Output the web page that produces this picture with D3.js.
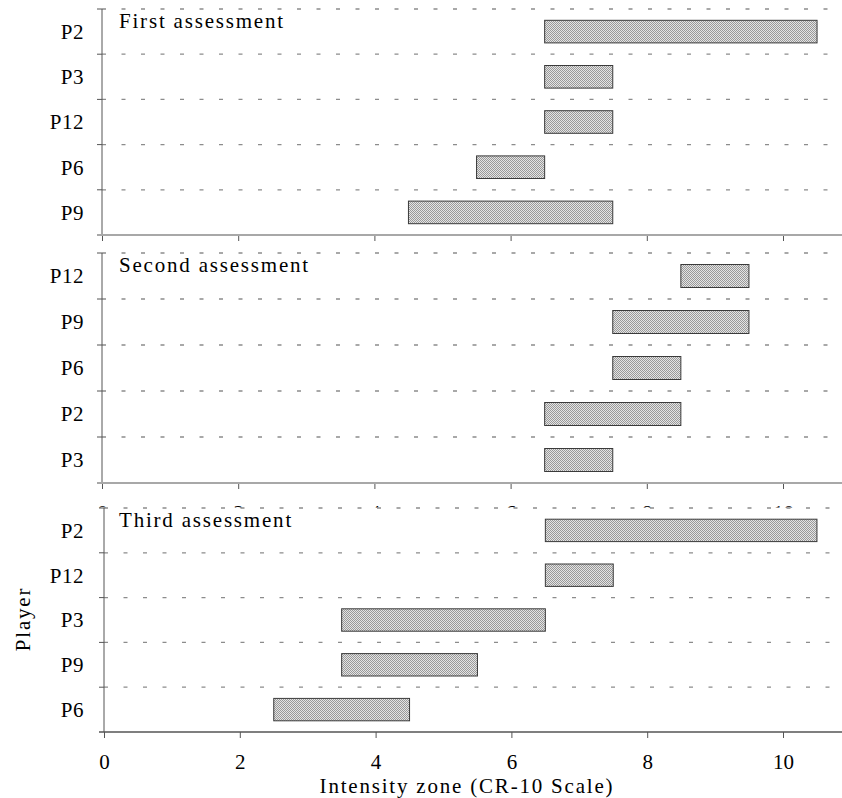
<!DOCTYPE html>
<html>
<head>
<meta charset="utf-8">
<script src="https://cdn.jsdelivr.net/npm/d3@7"></script>
<style>
  body { margin: 0; background: #fff; }
  text { font-family: "Liberation Serif", serif; fill: #000; }
</style>
</head>
<body>
<div id="chart"></div>
<script>
// values
var titles = ["First assessment", "Second assessment", "Third assessment"];

var players1 = ["P2", "P3", "P12", "P6", "P9"];
var low1 = [6.5, 6.5, 6.5, 5.5, 4.5];
var high1 = [10.5, 7.5, 7.5, 6.5, 7.5];

var players2 = ["P12", "P9", "P6", "P2", "P3"];
var low2 = [8.5, 7.5, 7.5, 6.5, 6.5];
var high2 = [9.5, 9.5, 8.5, 8.5, 7.5];

var players3 = ["P2", "P12", "P3", "P9", "P6"];
var low3 = [6.5, 6.5, 3.5, 3.5, 2.5];
var high3 = [10.5, 7.5, 6.5, 5.5, 4.5];

var xTicks = [0, 2, 4, 6, 8, 10];

var width = 842, height = 798;
var fontSize = 21, spacing = 1.8;

var panels = [
  { title: titles[0], players: players1, low: low1, high: high1, top: 9, bottom: 235, x0: 102, x10: 783, axisColor: "#a8a8a8" },
  { title: titles[1], players: players2, low: low2, high: high2, top: 253, bottom: 483, x0: 102, x10: 783, axisColor: "#a8a8a8" },
  { title: titles[2], players: players3, low: low3, high: high3, top: 508, bottom: 732, x0: 104, x10: 783, axisColor: "#555" }
];

var svg = d3.select("#chart")
  .append("svg")
  .attr("width", width)
  .attr("height", height);

var defs = svg.append("defs");
var pat = defs.append("pattern")
  .attr("id", "dots")
  .attr("patternUnits", "userSpaceOnUse")
  .attr("width", 2)
  .attr("height", 2);
pat.append("rect").attr("width", 2).attr("height", 2).attr("fill", "#e4e4e4");
pat.append("rect").attr("width", 1).attr("height", 1).attr("fill", "#999");
pat.append("rect").attr("x", 1).attr("y", 1).attr("width", 1).attr("height", 1).attr("fill", "#999");

panels.forEach(function(p, i) {
  var g = svg.append("g").attr("class", "panel");

  // white backing so each panel covers what is underneath (as in the original)
  g.append("rect")
    .attr("x", 0)
    .attr("y", p.top - 0.5)
    .attr("width", width)
    .attr("height", p.bottom - p.top + 60)
    .attr("fill", "#fff");

  var x = d3.scaleLinear().domain([0, 10]).range([p.x0, p.x10]);

  var y = d3.scaleBand()
    .domain(p.players)
    .range([p.top, p.bottom])
    .paddingInner(0.5)
    .paddingOuter(0.25);

  var step = y.step();
  var bounds = d3.range(p.players.length).map(function(k) { return p.top + k * step; });

  // dashed grid lines at row boundaries
  g.selectAll(".grid")
    .data(bounds)
    .enter().append("line")
    .attr("x1", x(0))
    .attr("x2", 830)
    .attr("y1", function(d) { return d; })
    .attr("y2", function(d) { return d; })
    .attr("stroke", "#8c8c8c")
    .attr("stroke-width", 1.3)
    .attr("stroke-dasharray", "4 15.5");

  // y axis line and ticks
  g.append("line")
    .attr("x1", x(0)).attr("x2", x(0))
    .attr("y1", p.top).attr("y2", p.bottom)
    .attr("stroke", "#555");
  g.selectAll(".ytick")
    .data(bounds)
    .enter().append("line")
    .attr("x1", x(0) - 5).attr("x2", x(0))
    .attr("y1", function(d) { return d; })
    .attr("y2", function(d) { return d; })
    .attr("stroke", "#555");

  g.selectAll(".ylab")
    .data(p.players)
    .enter().append("text")
    .attr("x", 84)
    .attr("y", function(d) { return y(d) + y.bandwidth() / 2; })
    .attr("dy", "0.35em")
    .attr("text-anchor", "end")
    .attr("font-size", fontSize)
    .attr("letter-spacing", 0.5)
    .text(function(d) { return d; });

  // bars
  g.selectAll(".bar")
    .data(p.players)
    .enter().append("rect")
    .attr("x", function(d, k) { return x(p.low[k]); })
    .attr("width", function(d, k) { return x(p.high[k]) - x(p.low[k]); })
    .attr("y", function(d) { return y(d); })
    .attr("height", y.bandwidth())
    .attr("fill", "url(#dots)")
    .attr("stroke", "#3a3a3a")
    .attr("stroke-width", 1);

  // x axis
  var axis = g.append("g")
    .attr("transform", "translate(0," + p.bottom + ")")
    .call(d3.axisBottom(x).tickValues(xTicks).tickSize(6).tickSizeOuter(0).tickPadding(8));
  axis.select(".domain").remove();
  axis.selectAll(".tick line").attr("stroke", "#555");
  if (i === 0) {
    // the first panel's labels are fully hidden under the second panel
    axis.selectAll(".tick text").remove();
  } else {
    axis.selectAll(".tick text")
      .attr("font-family", "Liberation Serif, serif")
      .attr("font-size", fontSize)
      .attr("fill", "#000")
      .attr("dy", null)
      .attr("y", 37);
  }
  axis.append("line")
    .attr("x1", x(0) - 5).attr("x2", width)
    .attr("y1", 0).attr("y2", 0)
    .attr("stroke", p.axisColor)
    .attr("stroke-width", i < 2 ? 2 : 1.3);

  // panel title
  g.append("text")
    .attr("x", 119)
    .attr("y", p.top + 19)
    .attr("font-size", fontSize)
    .attr("letter-spacing", spacing)
    .text(p.title);
});

// axis titles
svg.append("text")
  .attr("x", 467)
  .attr("y", 793)
  .attr("text-anchor", "middle")
  .attr("font-size", fontSize)
  .attr("letter-spacing", spacing)
  .text("Intensity zone (CR-10 Scale)");

svg.append("text")
  .attr("transform", "translate(30,619) rotate(-90)")
  .attr("text-anchor", "middle")
  .attr("font-size", fontSize)
  .attr("letter-spacing", spacing)
  .text("Player");
</script>
</body>
</html>
